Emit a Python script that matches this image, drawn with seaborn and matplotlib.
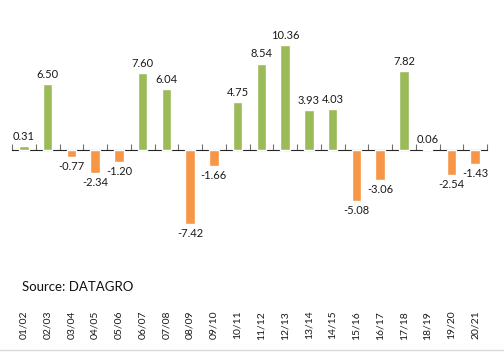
import numpy as np
import pandas as pd
import matplotlib
matplotlib.use('Agg')
import matplotlib.pyplot as plt
import seaborn as sns

seasons = ['01/02', '02/03', '03/04', '04/05', '05/06', '06/07', '07/08', '08/09',
           '09/10', '10/11', '11/12', '12/13', '13/14', '14/15', '15/16', '16/17',
           '17/18', '18/19', '19/20', '20/21']
change = [0.31, 6.50, -0.77, -2.34, -1.20, 7.60, 6.04, -7.42, -1.66, 4.75,
          8.54, 10.36, 3.93, 4.03, -5.08, -3.06, 7.82, 0.06, -2.54, -1.43]
direction = ['up', 'up', 'down', 'down', 'down', 'up', 'up', 'down', 'down', 'up',
             'up', 'up', 'up', 'up', 'down', 'down', 'up', 'down', 'down', 'down']

df = pd.DataFrame({'season': seasons, 'change': change, 'direction': direction})
palette = {'up': '#9BBB59', 'down': '#F79646'}

sns.set_style('white')
plt.rcParams['font.family'] = ['Lato', 'DejaVu Sans']

fig = plt.figure(figsize=(5.04, 3.52), dpi=100)
ax = fig.add_axes([12 / 504, 44 / 352, 475 / 504, 293 / 352])

sns.barplot(data=df, x='season', y='change', hue='direction', palette=palette,
            dodge=False, width=0.4, legend=False, ax=ax, saturation=1)

for cont in ax.containers:
    ax.bar_label(cont, fmt='%.2f', padding=3, fontsize=8, color='#1a1a1a')

ymin, ymax = -15.74, 13.36
ax.set_ylim(ymin, ymax)
ax.set_xlim(-0.5, len(seasons) - 0.5)
for s in ax.spines.values():
    s.set_visible(False)
ax.set_yticks([])
ax.set_xlabel('')
ax.set_ylabel('')
ax.tick_params(axis='x', length=0, pad=2, labelsize=7.5, labelrotation=90, colors='#1a1a1a')

# zero axis with tick marks between categories
zero_frac = (0 - ymin) / (ymax - ymin)
sec = ax.secondary_xaxis(zero_frac)
sec.set_xticks(np.arange(-0.5, len(seasons), 1))
sec.set_xticklabels([])
sec.tick_params(axis='x', direction='out', length=4, width=0.8, color='#6f6f6f')
sec.spines['bottom'].set_color('#6f6f6f')
sec.spines['bottom'].set_linewidth(1.0)

fig.text(22 / 504, 1 - 287 / 352, 'Source: DATAGRO', fontsize=9.5,
         va='center', ha='left', color='#111111')
fig.add_artist(plt.Line2D([0, 1], [2.5 / 352, 2.5 / 352], transform=fig.transFigure,
                          color='#d9d9d9', linewidth=1))

fig.savefig('out.png', dpi=100)
